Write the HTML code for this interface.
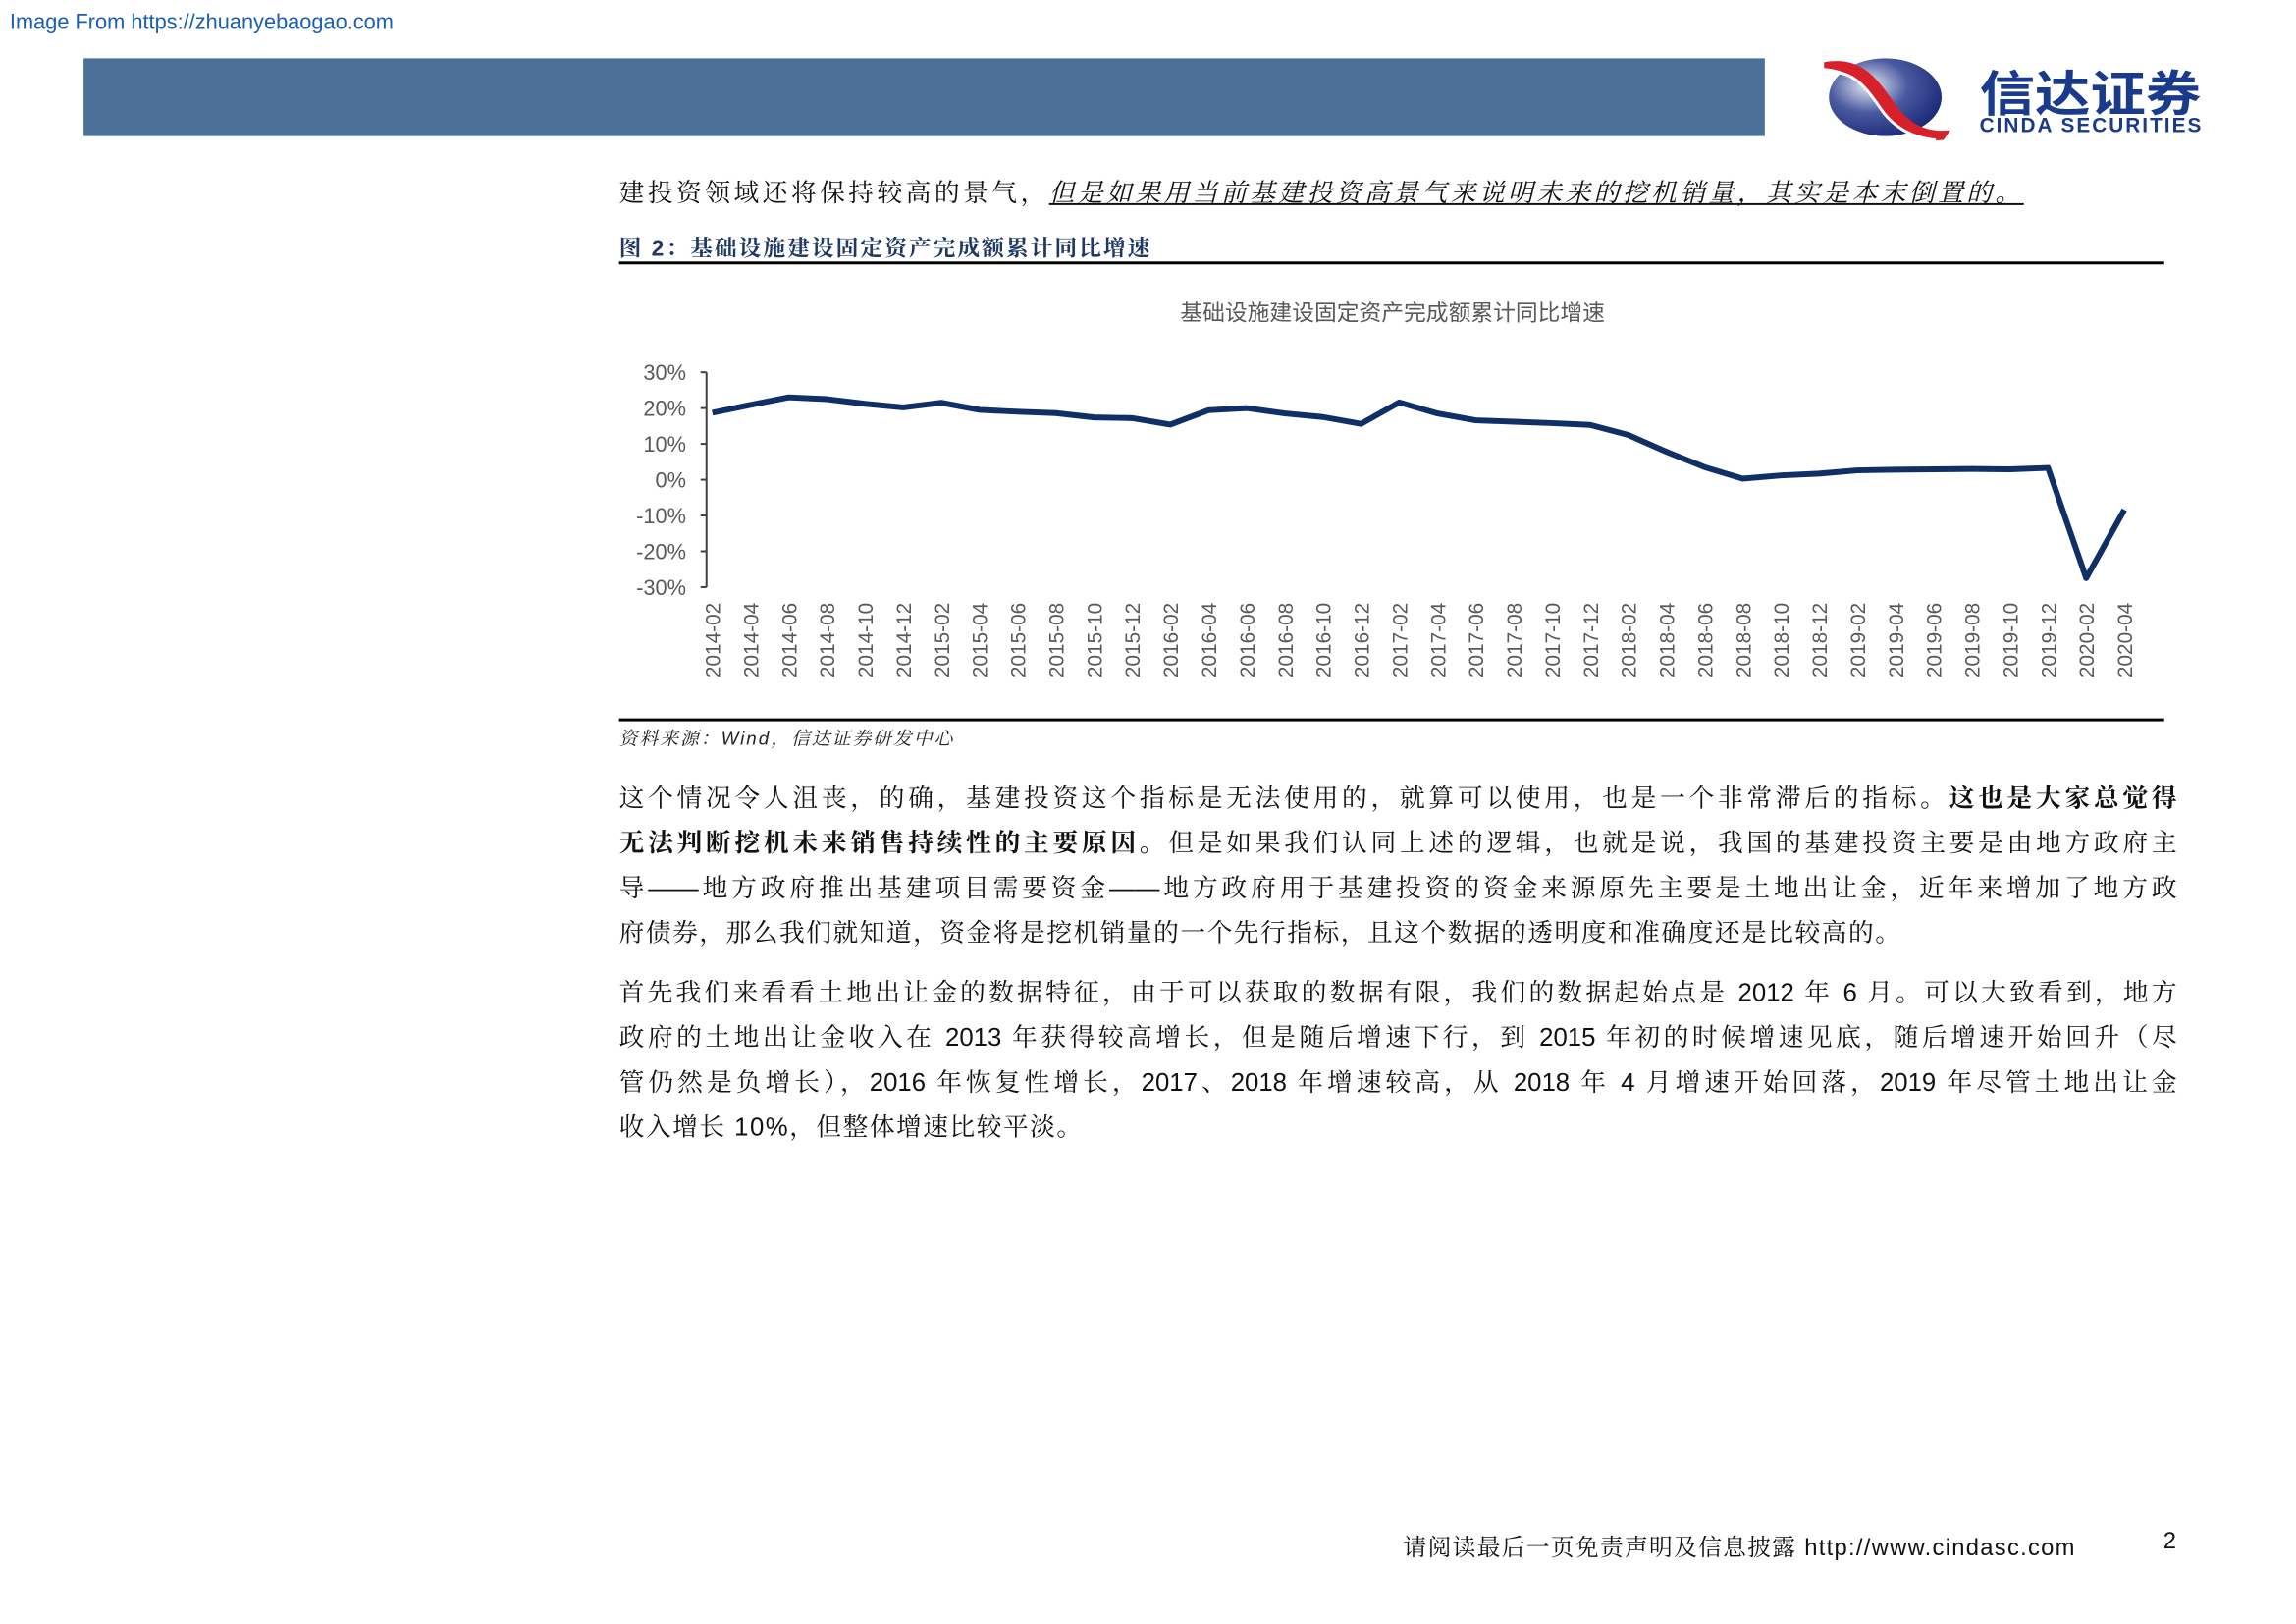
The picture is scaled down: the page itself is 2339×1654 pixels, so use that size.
<!DOCTYPE html>
<html><head><meta charset="utf-8">
<style>
body{margin:0;width:2339px;height:1654px;background:#fff;position:relative;overflow:hidden;font-family:"Liberation Sans","Noto Serif CJK SC",serif;}
#wrap{position:absolute;left:0;top:0;width:2339px;height:1654px;transform:scale(0.99);transform-origin:0 0;}
.abs{position:absolute;}
.line{position:absolute;left:637px;width:1603px;font-size:26px;line-height:32px;white-space:nowrap;text-align:justify;text-align-last:justify;color:#111;}
.line.last{text-align-last:left;}
b{font-weight:bold;}
</style></head><body>
<div id="wrap">
<div class="abs" style="left:10px;top:10px;font-size:22px;color:#1a5fb4;font-family:'Liberation Sans',sans-serif;">Image From https://zhuanyebaogao.com</div>
<div class="abs" style="left:86px;top:60px;width:1730px;height:80px;background:#4d7098;"></div>
<svg class="abs" style="left:1872px;top:52px" width="430" height="100">
<defs><radialGradient id="g" cx="35%" cy="35%" r="70%"><stop offset="0" stop-color="#e8ebf5"/><stop offset="0.5" stop-color="#4a5aa0"/><stop offset="1" stop-color="#1c2a78"/></radialGradient></defs>
<ellipse cx="68" cy="48" rx="58" ry="40" fill="url(#g)"/>
<path d="M5 12 C45 5,60 30,78 55 C92 75,110 85,135 82 L128 92 C100 95,80 80,66 62 C50 40,35 20,5 18Z" fill="#d8202a"/>
<path d="M8 22 C35 20,48 38,62 58 C75 78,95 90,120 92" stroke="#fff" stroke-width="3" fill="none"/>
<text x="165" y="62" font-size="50" font-weight="bold" fill="#1a3a8c" font-family="'Noto Sans CJK SC',sans-serif" textLength="228" lengthAdjust="spacingAndGlyphs">信达证券</text>
<text x="165" y="84" font-size="21" font-weight="bold" fill="#1a3a8c" font-family="'Liberation Sans',sans-serif" textLength="228">CINDA SECURITIES</text>
</svg>
<div class="abs" style="left:637px;top:178px;font-size:26px;letter-spacing:3.5px;white-space:nowrap;color:#111;">建投资领域还将保持较高的景气，<i style="text-decoration:underline;">但是如果用当前基建投资高景气来说明未来的挖机销量，其实是本末倒置的。</i></div>
<div class="abs" style="left:637px;top:237px;font-size:23px;letter-spacing:2px;font-weight:bold;color:#1f3864;white-space:nowrap;">图 2：基础设施建设固定资产完成额累计同比增速</div>
<div class="abs" style="left:637px;top:269px;width:1590px;height:3px;background:#000;"></div>
<svg class="abs" style="left:0;top:0" width="2339" height="760" id="chart"></svg>
<div class="abs" style="left:637px;top:739px;width:1590px;height:3px;background:#000;"></div>
<div class="abs" style="left:637px;top:745px;font-size:19px;letter-spacing:2px;font-style:italic;color:#222;">资料来源：Wind，信达证券研发中心</div>

<div class="line" style="top:805px">这个情况令人沮丧，的确，基建投资这个指标是无法使用的，就算可以使用，也是一个非常滞后的指标。<b>这也是大家总觉得</b></div>
<div class="line" style="top:851px"><b>无法判断挖机未来销售持续性的主要原因。</b>但是如果我们认同上述的逻辑，也就是说，我国的基建投资主要是由地方政府主</div>
<div class="line" style="top:897px">导——地方政府推出基建项目需要资金——地方政府用于基建投资的资金来源原先主要是土地出让金，近年来增加了地方政</div>
<div class="line last" style="top:943px;letter-spacing:1.5px">府债券，那么我们就知道，资金将是挖机销量的一个先行指标，且这个数据的透明度和准确度还是比较高的。</div>

<div class="line" style="top:1005px">首先我们来看看土地出让金的数据特征，由于可以获取的数据有限，我们的数据起始点是 2012 年 6 月。可以大致看到，地方</div>
<div class="line" style="top:1051px">政府的土地出让金收入在 2013 年获得较高增长，但是随后增速下行，到 2015 年初的时候增速见底，随后增速开始回升（尽</div>
<div class="line" style="top:1097px">管仍然是负增长），2016 年恢复性增长，2017、2018 年增速较高，从 2018 年 4 月增速开始回落，2019 年尽管土地出让金</div>
<div class="line last" style="top:1143px;letter-spacing:1.5px">收入增长 10%，但整体增速比较平淡。</div>

<div class="abs" style="left:1444px;top:1572px;font-size:24px;letter-spacing:1.3px;white-space:nowrap;color:#111;">请阅读最后一页免责声明及信息披露 http://www.cindasc.com</div>
<div class="abs" style="left:2226px;top:1572px;font-size:24px;color:#111;">2</div>
</div>
<script>
const categories=["2014-02","2014-04","2014-06","2014-08","2014-10","2014-12","2015-02","2015-04","2015-06","2015-08","2015-10","2015-12","2016-02","2016-04","2016-06","2016-08","2016-10","2016-12","2017-02","2017-04","2017-06","2017-08","2017-10","2017-12","2018-02","2018-04","2018-06","2018-08","2018-10","2018-12","2019-02","2019-04","2019-06","2019-08","2019-10","2019-12","2020-02","2020-04"];
const growth=[18.7,20.9,23,22.5,21.2,20.2,21.5,19.5,19,18.6,17.4,17.2,15.4,19.4,20,18.5,17.5,15.6,21.6,18.5,16.6,16.2,15.8,15.3,12.5,7.8,3.5,0.3,1.2,1.7,2.6,2.8,2.9,3,2.9,3.3,-27.5,-8.4];
const yTicks=[30,20,10,0,-10,-20,-30];
const yTickLabels=["30%","20%","10%","0%","-10%","-20%","-30%"];
const NS="http://www.w3.org/2000/svg";
const svg=document.getElementById('chart');
const x0=733,x1=2186,yTop=383,yBot=604;
const xs=i=>x0+(x1-x0)*i/(categories.length-1);
const ys=v=>yTop+(30-v)/60*(yBot-yTop);
function mk(t,a){const e=document.createElementNS(NS,t);for(const k in a)e.setAttribute(k,a[k]);svg.appendChild(e);return e;}
let t=mk('text',{x:1433,y:330,'font-size':23,fill:'#595959','text-anchor':'middle','font-family':"'Noto Sans CJK SC',sans-serif"});
t.textContent="基础设施建设固定资产完成额累计同比增速";


let ax=mk('line',{x1:727,x2:727,y1:yTop,y2:yBot,stroke:'#404040','stroke-width':2});


yTicks.forEach((v,i)=>{
 const tk=mk('line',{x1:721,x2:727,y1:ys(v),y2:ys(v),stroke:'#404040','stroke-width':2});
 
 
 const l=mk('text',{x:706,y:ys(v)+8,'font-size':22,fill:'#595959','text-anchor':'end','font-family':"'Liberation Sans',sans-serif"});
 l.textContent=yTickLabels[i];
 
 
});
categories.forEach((c,i)=>{
 const l=mk('text',{x:0,y:0,'font-size':21,fill:'#595959','text-anchor':'end','font-family':"'Liberation Sans',sans-serif",transform:`translate(${xs(i)+8},620) rotate(-90)`});
 l.textContent=c;
 
 
});
const p=mk('polyline',{points:growth.map((v,i)=>xs(i)+','+ys(v)).join(' '),fill:'none',stroke:'#102f66','stroke-width':6,'stroke-linejoin':'round'});


</script>
</body></html>
